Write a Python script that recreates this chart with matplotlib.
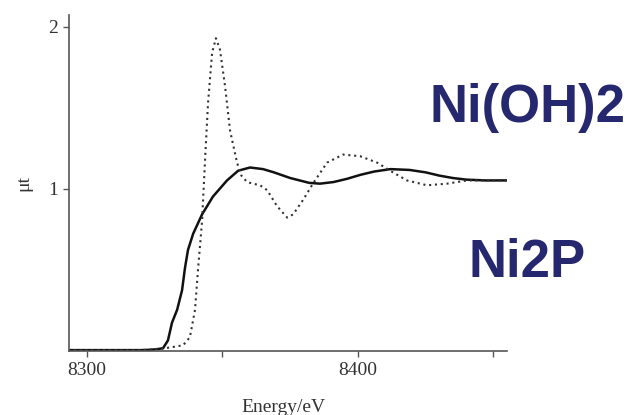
import matplotlib.pyplot as plt
import numpy as np

plt.rcParams["font.family"] = ["Liberation Serif", "DejaVu Serif"]
plt.rcParams["figure.dpi"] = 100

# Ni2P (solid)
NI2P_E = [8293, 8310, 8320, 8323.3, 8326, 8328.1, 8329.9, 8331.4, 8333.3, 8335.1,
          8336.2, 8337.3, 8339.2, 8342.5, 8346.5, 8351.7, 8355.8, 8360.2,
          8365.0, 8369.0, 8375.0, 8382.0, 8386.0, 8391.0, 8396.0, 8401.0,
          8406.0, 8412.0, 8419.0, 8425.0, 8430.0, 8435.0, 8440.0, 8447.0, 8455.0]
NI2P_MU = [0.0, 0.0, 0.0, 0.002, 0.006, 0.012, 0.06, 0.17, 0.25, 0.37,
           0.51, 0.62, 0.72, 0.84, 0.95, 1.05, 1.11, 1.13,
           1.12, 1.10, 1.065, 1.035, 1.03, 1.04, 1.06, 1.085,
           1.105, 1.12, 1.115, 1.10, 1.08, 1.065, 1.055, 1.05, 1.05]

# Ni(OH)2 (dotted)
NIOH_E = [8293, 8320, 8328.1, 8332.0, 8335.5, 8338.0, 8339.9, 8341.0, 8342.5,
          8343.6, 8344.7, 8346.2, 8347.6, 8349.1, 8351.0, 8352.8, 8355.4,
          8357.0, 8359.1, 8361.3, 8363.9, 8366.5, 8370.2, 8373.9, 8376.1,
          8379.8, 8383.4, 8388.6, 8394.5, 8400.8, 8407.1, 8411.9, 8418.1,
          8425.5, 8432.9, 8440.3, 8455.0]
NIOH_MU = [0.0, 0.0, 0.01, 0.02, 0.03, 0.08, 0.25, 0.50, 0.80,
           1.18, 1.53, 1.84, 1.93, 1.86, 1.63, 1.36, 1.16,
           1.08, 1.04, 1.03, 1.02, 0.99, 0.89, 0.82, 0.84,
           0.93, 1.03, 1.16, 1.21, 1.20, 1.16, 1.11, 1.05,
           1.02, 1.03, 1.05, 1.05]

X_TICKS = [8300, 8350, 8400, 8450]
X_TICK_LABELS = ["8300", "", "8400", ""]
Y_TICKS = [1, 2]

fig = plt.figure(figsize=(6.31, 4.15))
ax = fig.add_axes([0.1094, 0.154, 0.694, 0.81])

ax.plot(NI2P_E, NI2P_MU, color="#111111", linewidth=1.8,
        solid_capstyle="round", solid_joinstyle="round")
ax.plot(NIOH_E, NIOH_MU, color="#333333", linewidth=1.5, linestyle=(0, (1, 1.8)))

ax.set_xlim(8293.4, 8455)
ax.set_ylim(-0.006, 2.074)
ax.set_xticks(X_TICKS)
ax.set_xticklabels(X_TICK_LABELS)
ax.set_yticks(Y_TICKS)
ax.tick_params(direction="out", length=4, width=1, color="#555555",
               labelsize=14, labelcolor="#333333", pad=4)

for side in ["top", "right"]:
    ax.spines[side].set_visible(False)
for side in ["left", "bottom"]:
    ax.spines[side].set_color("#555555")
    ax.spines[side].set_linewidth(1.2)

fig.text(0.038, 0.558, "μt", rotation=90, ha="center", va="center",
         fontsize=14, color="#333333")
fig.text(0.45, 0.007, "Energy/eV", ha="center", va="baseline",
         fontsize=14, color="#333333")

fig.text(0.681, 0.706, "Ni(OH)2", family="Liberation Sans", fontweight="bold",
         fontsize=38, color="#25276f", ha="left", va="baseline")
fig.text(0.742, 0.333, "Ni2P", family="Liberation Sans", fontweight="bold",
         fontsize=38, color="#25276f", ha="left", va="baseline")

fig.savefig("out.png", dpi=100)
